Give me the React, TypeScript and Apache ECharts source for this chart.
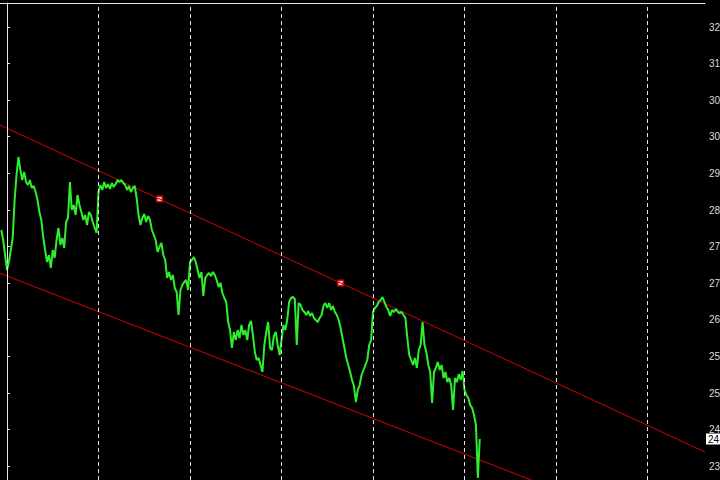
import React, { useEffect, useRef } from "react";
import * as echarts from "echarts";

// bar index of the first close in the list (bars are 30-min bars, 48 per day)
const FIRST_BAR = -3;

const closes = [
  28.30, 28.10, 27.80, 27.50, 27.66, 27.90, 28.14, 28.90, 29.40, 29.76,
  29.50, 29.30, 29.46, 29.26, 29.20, 29.30, 29.14, 29.18, 29.06, 28.90,
  28.66, 28.50, 28.16, 27.90, 27.66, 27.80, 27.54, 27.90, 27.74, 28.10,
  28.34, 28.00, 28.14, 27.94, 28.46, 28.54, 29.26, 28.70, 28.80, 28.60,
  29.00, 28.80, 28.66, 28.50, 28.60, 28.40, 28.66, 28.60, 28.46, 28.34,
  28.24, 29.06, 29.20, 29.10, 29.26, 29.14, 29.22, 29.12, 29.24, 29.16,
  29.22, 29.30, 29.26, 29.30, 29.24, 29.20, 29.10, 29.18, 29.06, 29.14,
  29.18, 28.94, 28.60, 28.40, 28.54, 28.62, 28.46, 28.58, 28.50, 28.30,
  28.20, 28.10, 27.86, 27.96, 28.04, 27.80, 27.70, 27.34, 27.46, 27.30,
  27.40, 27.14, 27.06, 26.60, 27.10, 27.20, 27.26, 27.30, 27.10, 27.66,
  27.70, 27.76, 27.66, 27.50, 27.34, 27.46, 26.98, 27.34, 27.40, 27.44,
  27.38, 27.46, 27.40, 27.30, 27.16, 27.24, 27.04, 26.94, 26.86, 26.46,
  26.30, 25.94, 26.26, 26.10, 26.30, 26.14, 26.40, 26.20, 26.30, 26.10,
  26.40, 26.48, 26.20, 25.86, 25.70, 25.74, 25.60, 25.46, 26.00, 26.26,
  26.46, 25.94, 25.90, 26.18, 26.26, 26.00, 25.80, 26.10, 26.40, 26.30,
  26.50, 26.86, 26.94, 26.96, 26.92, 26.00, 26.84, 26.80, 26.70, 26.66,
  26.60, 26.68, 26.58, 26.64, 26.54, 26.50, 26.46, 26.54, 26.60, 26.78,
  26.84, 26.74, 26.84, 26.70, 26.78, 26.66, 26.60, 26.50, 26.34, 26.14,
  25.94, 25.74, 25.60, 25.46, 25.30, 25.18, 24.86, 25.10, 25.20, 25.40,
  25.50, 25.60, 25.70, 26.00, 26.10, 26.66, 26.74, 26.78, 26.86, 26.90,
  26.96, 26.86, 26.76, 26.70, 26.58, 26.70, 26.66, 26.72, 26.66, 26.64,
  26.66, 26.60, 26.54, 26.14, 25.80, 25.70, 25.60, 25.74, 25.54, 25.90,
  26.00, 26.46, 26.00, 25.86, 25.60, 25.46, 24.84, 25.46, 25.54, 25.66,
  25.50, 25.60, 25.34, 25.46, 25.26, 25.34, 25.20, 24.70, 25.34, 25.26,
  25.42, 25.30, 25.48, 25.10, 25.00, 24.94, 24.80, 24.74, 24.60, 24.40,
  23.34, 24.12,
];

// trend line anchor points [bar, price]
const upperAnchors = [
  [80, 28.92],
  [175, 27.24],
];
const lowerAnchors = [
  [0, 27.38],
  [248, 23.7],
];

// day separators (bar index)
const dayStarts = [0, 48, 96, 144, 192, 240, 288, 336];

// price scale ticks (only the leading digits are visible in the window)
const yTicks = [32.36, 31.63, 30.9, 30.17, 29.44, 28.7, 27.97, 27.24, 26.51, 25.78, 25.04, 24.31, 23.58];

const X_MIN = -3.67;
const X_MAX = 366.16;
const Y_MIN = 23.3;
const Y_MAX = 32.84;

function extendLine(a: number[], b: number[]) {
  const slope = (b[1] - a[1]) / (b[0] - a[0]);
  return [
    [X_MIN, a[1] + (X_MIN - a[0]) * slope],
    [X_MAX, a[1] + (X_MAX - a[0]) * slope],
  ];
}

// the price scale is cut by the window edge: only the integer part shows
const visiblePart = (v: number) => String(Math.floor(v));

export default function App() {
  const ref = useRef<HTMLDivElement>(null);

  useEffect(() => {
    if (!ref.current) return;
    const chart = echarts.init(ref.current, undefined, { renderer: "svg" });
    const priceData = closes.map((v, i) => [FIRST_BAR + i, v]);
    const lastClose = closes[closes.length - 1];

    chart.setOption({
      animation: false,
      backgroundColor: "#000000",
      grid: {
        left: 0,
        right: 15,
        top: 3,
        bottom: 0,
        containLabel: false,
        outerBoundsMode: "none",
      },
      xAxis: {
        type: "value",
        position: "top",
        min: X_MIN,
        max: X_MAX,
        axisLine: { show: true, lineStyle: { color: "#e8e8e8", width: 1 } },
        axisTick: { show: false },
        axisLabel: { show: false },
        splitLine: { show: false },
      },
      yAxis: {
        type: "value",
        position: "right",
        min: Y_MIN,
        max: Y_MAX,
        axisLine: { show: true, lineStyle: { color: "#e8e8e8", width: 1 } },
        axisTick: {
          show: true,
          length: 3,
          customValues: yTicks,
          lineStyle: { color: "#e8e8e8" },
        },
        axisLabel: {
          show: true,
          customValues: yTicks,
          margin: 4,
          color: "#dcdcdc",
          fontSize: 10,
          fontFamily: "Liberation Sans",
          formatter: visiblePart,
        },
        splitLine: { show: false },
      },
      series: [
        {
          type: "line",
          name: "lower",
          data: extendLine(lowerAnchors[0], lowerAnchors[1]),
          symbol: "none",
          silent: true,
          lineStyle: { color: "#d40000", width: 1 },
          markLine: {
            silent: true,
            symbol: ["none", "none"],
            label: { show: false },
            lineStyle: { color: "#e6e6e6", type: [4, 3], width: 1 },
            data: dayStarts.map((d) => ({ xAxis: d })),
          },
        },
        {
          type: "line",
          name: "upper",
          data: extendLine(upperAnchors[0], upperAnchors[1]),
          symbol: "none",
          silent: true,
          lineStyle: { color: "#d40000", width: 1 },
        },
        {
          type: "line",
          name: "price",
          data: priceData,
          symbol: "none",
          silent: true,
          lineStyle: { color: "#2df02d", width: 2 },
        },
        {
          type: "scatter",
          name: "anchorsOuter",
          data: upperAnchors,
          symbol: "rect",
          symbolSize: 7,
          silent: true,
          itemStyle: { color: "#ff1010" },
        },
        {
          type: "scatter",
          name: "anchorsInner",
          data: upperAnchors,
          symbol: "rect",
          symbolSize: 4,
          silent: true,
          itemStyle: { color: "#ffffff" },
        },
      ],
    });

    // last-price marker on the price scale, placed through the axis scales
    const px = chart.convertToPixel({ xAxisIndex: 0 }, X_MAX) as number;
    const py = chart.convertToPixel({ yAxisIndex: 0 }, lastClose) as number;
    chart.setOption({
      graphic: [
        {
          type: "text",
          x: px + 1,
          y: py,
          silent: true,
          z: 100,
          style: {
            text: visiblePart(lastClose),
            fill: "#000000",
            font: "10px 'Liberation Sans'",
            backgroundColor: "#ffffff",
            padding: [1, 2, 0, 2],
            verticalAlign: "middle",
            align: "left",
          },
        },
      ],
    });
    return () => chart.dispose();
  }, []);

  return (
    <div
      ref={ref}
      style={{ position: "fixed", left: 0, top: 0, width: 720, height: 480, background: "#000" }}
    />
  );
}
